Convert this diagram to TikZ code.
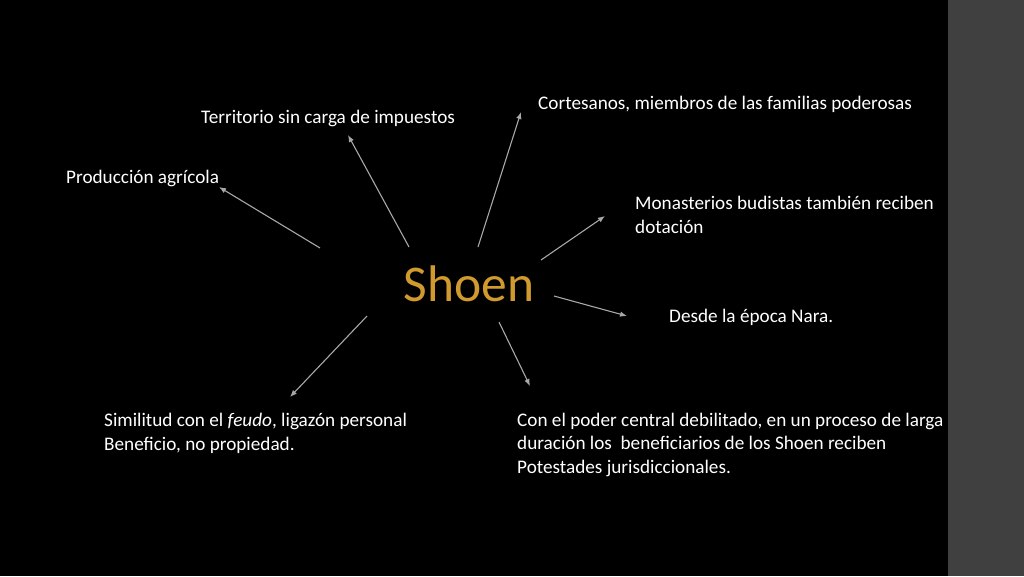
\documentclass[tikz,border=0pt]{standalone}
\usepackage{fontspec}
\setmainfont{Carlito}
\usepackage{tikz}
\usetikzlibrary{calc, arrows.meta}
\definecolor{shoengold}{HTML}{D09A2E}
\definecolor{stripgray}{HTML}{404040}
\definecolor{linkgray}{HTML}{A8A8A8}

\begin{document}
\begin{tikzpicture}[x = 1pt, y = -1pt,
		txt/.style = {text = white, inner sep = 0, anchor = base west, align = left, font = \fontsize{19.2}{23.3}\selectfont},
		link/.style = {draw = linkgray, line width = 1.1pt, -{Latex[length = 7pt, width = 5.5pt]}}]
			\fill[black] (0, 0) rectangle (1024, 576);
			\fill[stripgray] (948, 0) rectangle (1024, 576);
			\useasboundingbox (0, 0) rectangle (1024, 576);
			\node[text = shoengold, font = \fontsize{51.5}{60}\selectfont] (shoen) at (469, 284) {Shoen};
			\node[txt] (prod) at (66, 183) {Producción agrícola};
			\node[txt] (terr) at (201, 123) {Territorio sin carga de impuestos};
			\node[txt] (cort) at (538, 109) {Cortesanos, miembros de las familias poderosas};
			\node[txt] (mona) at (635, 233) {Monasterios budistas también reciben\\dotación};
			\node[txt] (desde) at (669, 322) {Desde la época Nara.};
			\node[txt] (poder) at (517, 473) {Con el poder central debilitado, en un proceso de larga\\duración los \ beneficiarios de los Shoen reciben\\Potestades jurisdiccionales.};
			\node[txt] (simil) at (104, 450) {Similitud con el \textit{feudo}, ligazón personal\\Beneficio, no propiedad.};
			% tails round the centre word
			\coordinate (tprod) at (320, 248);
			\coordinate (tterr) at (409, 247);
			\coordinate (tcort) at (478, 247);
			\coordinate (tmona) at (541, 260);
			\coordinate (tdesde) at (554, 296);
			\coordinate (tpoder) at (499, 322);
			\coordinate (tsimil) at (367, 316);
			% tips next to the texts
			\coordinate (hprod) at (219, 187);
			\coordinate (hterr) at (348, 135);
			\coordinate (hcort) at (521, 112);
			\coordinate (hmona) at (605, 216);
			\coordinate (hdesde) at (627, 316);
			\coordinate (hpoder) at (530, 386);
			\coordinate (hsimil) at (290, 397);
			\foreach \n in {prod, terr, cort, mona, desde, poder, simil}
				\draw[link] (t\n) -- (h\n);
		\end{tikzpicture}
\end{document}
